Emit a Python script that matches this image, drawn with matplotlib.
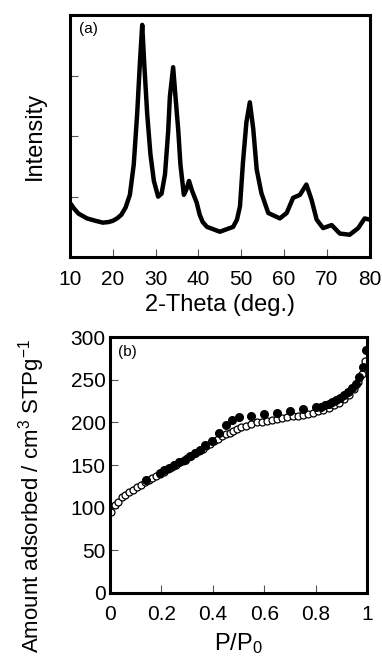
import matplotlib
matplotlib.use('Agg')
import matplotlib.pyplot as plt

plt.rcParams['font.family'] = ['Liberation Sans', 'DejaVu Sans']
plt.rcParams['mathtext.fontset'] = 'custom'
plt.rcParams['mathtext.rm'] = 'Liberation Sans'
plt.rcParams['mathtext.it'] = 'Liberation Sans'

# (a) XRD pattern
two_theta = [10, 11, 12, 14, 16, 17.7, 19, 20, 21, 22, 23, 24, 24.9, 25.7, 26.33, 26.88,
             27.35, 28.04, 28.8, 29.6, 30.6, 31.4, 32.2, 32.95, 33.33, 34.1, 34.65, 35.3,
             35.8, 36.6, 37.2, 37.8, 38.5, 39.6, 40.3, 41, 42, 45, 48.1, 49, 49.7, 50.4,
             51.2, 52.0, 52.8, 53.6, 54.7, 56.3, 59, 60.6, 62.1, 63.7, 65.2, 66.4, 67.6,
             69.1, 71.1, 73, 75.3, 77.3, 78.8, 80]
intensity = [0.9, 0.8, 0.72, 0.64, 0.6, 0.57, 0.58, 0.6, 0.64, 0.7, 0.82, 1.03, 1.53, 2.37,
             3.2, 3.84, 3.2, 2.37, 1.7, 1.26, 1.0, 1.05, 1.37, 2.09, 2.65, 3.14, 2.65, 2.09,
             1.53, 1.03, 1.12, 1.26, 1.1, 0.9, 0.7, 0.58, 0.5, 0.42, 0.5, 0.62, 0.84, 1.57,
             2.23, 2.56, 2.12, 1.45, 1.06, 0.73, 0.64, 0.73, 0.98, 1.03, 1.2, 0.95, 0.62,
             0.48, 0.53, 0.39, 0.37, 0.48, 0.64, 0.62]

# (b) N2 isotherm: adsorption (open) and desorption (filled)
p_ads = [0.005, 0.02, 0.03, 0.045, 0.06, 0.075, 0.09, 0.105, 0.12, 0.135, 0.15, 0.165,
         0.18, 0.195, 0.21, 0.225, 0.24, 0.255, 0.27, 0.285, 0.30, 0.315, 0.33, 0.345,
         0.36, 0.375, 0.39, 0.405, 0.42, 0.435, 0.45, 0.465, 0.48, 0.495, 0.51, 0.53,
         0.55, 0.57, 0.59, 0.61, 0.63, 0.65, 0.67, 0.69, 0.71, 0.73, 0.75, 0.77, 0.79,
         0.81, 0.83, 0.85, 0.87, 0.89, 0.91, 0.93, 0.95, 0.965, 0.98, 0.99]
v_ads = [95, 103, 107, 112, 115, 118, 121, 124, 127, 130, 132, 135, 137, 140, 142, 145,
         148, 150, 153, 155, 158, 161, 164, 166, 169, 172, 175, 178, 181, 184, 186, 188,
         190, 192, 194, 196, 198, 200, 201, 202, 203, 204, 205, 206, 207, 208, 209, 210,
         211, 213, 215, 217, 220, 223, 227, 232, 239, 247, 257, 272]
p_des = [0.995, 0.985, 0.97, 0.955, 0.94, 0.925, 0.91, 0.895, 0.88, 0.865, 0.85, 0.835,
         0.82, 0.80, 0.75, 0.70, 0.65, 0.60, 0.55, 0.50, 0.475, 0.45, 0.425, 0.395, 0.37,
         0.35, 0.33, 0.31, 0.29, 0.27, 0.25, 0.23, 0.21, 0.195, 0.14]
v_des = [285, 265, 253, 245, 240, 236, 232, 229, 226, 224, 222, 220, 218, 218, 216, 213,
         211, 210, 208, 206, 203, 197, 188, 178, 173, 168, 164, 160, 156, 153, 150, 147,
         144, 141, 132]

fig = plt.figure(figsize=(3.82, 6.61), dpi=100)

ax1 = fig.add_axes([0.183, 0.611, 0.785, 0.366])
ax1.plot(two_theta, intensity, color='black', lw=3.2)
ax1.set_xlim(10, 80)
ax1.set_ylim(0, 4)
ax1.set_xticks([10, 20, 30, 40, 50, 60, 70, 80])
ax1.set_yticks([1, 2, 3])
ax1.set_yticklabels([])
ax1.set_xlabel('2-Theta (deg.)', fontsize=17, labelpad=4)
ax1.set_ylabel('Intensity', fontsize=17, labelpad=14)
ax1.text(0.03, 0.97, '(a)', transform=ax1.transAxes, fontsize=11, va='top')

ax2 = fig.add_axes([0.288, 0.103, 0.673, 0.387])
ax2.plot(p_ads, v_ads, 'o', mfc='white', mec='black', ms=5, mew=0.9)
ax2.plot(p_des, v_des, 'o', color='black', ms=5.5)
ax2.set_xlim(0, 1)
ax2.set_ylim(0, 300)
ax2.set_xticks([0, 0.2, 0.4, 0.6, 0.8, 1])
ax2.set_xticklabels(['0', '0.2', '0.4', '0.6', '0.8', '1'])
ax2.set_yticks([0, 50, 100, 150, 200, 250, 300])
ax2.set_xlabel('P/P$_0$', fontsize=17, labelpad=5)
ax2.set_ylabel('Amount adsorbed / cm$^3$ STPg$^{-1}$', fontsize=16)
ax2.yaxis.set_label_coords(-0.245, 0.38)
ax2.text(0.03, 0.97, '(b)', transform=ax2.transAxes, fontsize=11, va='top')

for ax in (ax1, ax2):
    for s in ax.spines.values():
        s.set_linewidth(2.2)
    ax.tick_params(direction='in', length=6, width=0.8, color='#555555',
                   labelsize=15, top=False, right=False)
    ax.tick_params(axis='x', pad=9)
ax2.tick_params(axis='y', pad=3)

fig.savefig('out.png', dpi=100)
